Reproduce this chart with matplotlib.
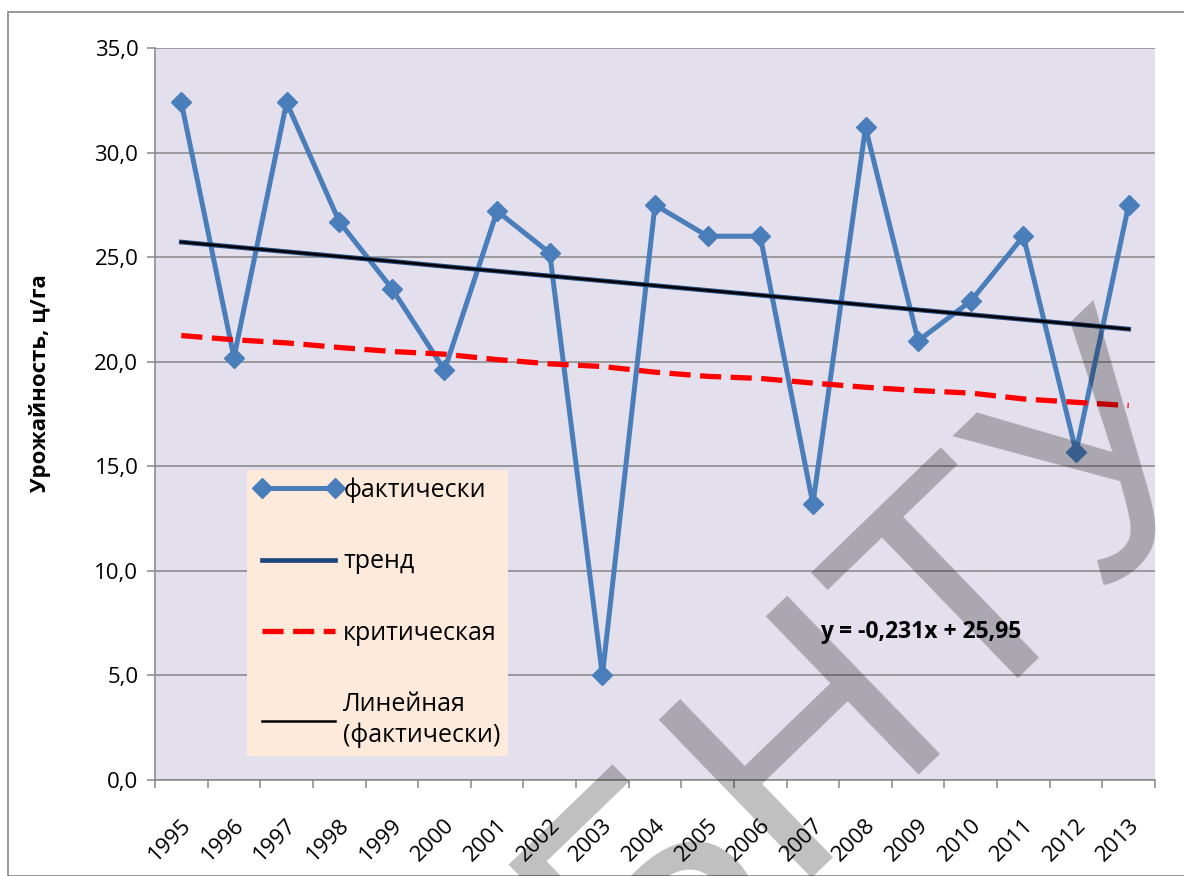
import numpy as np
import matplotlib
matplotlib.use('Agg')
import matplotlib.pyplot as plt
from matplotlib.ticker import MultipleLocator, FixedLocator, FuncFormatter
from matplotlib.patches import Rectangle
import matplotlib.transforms as mtransforms

plt.rcParams['font.family'] = ['Open Sans', 'DejaVu Sans']

# data
years = ['1995', '1996', '1997', '1998', '1999', '2000', '2001', '2002', '2003', '2004',
         '2005', '2006', '2007', '2008', '2009', '2010', '2011', '2012', '2013']
fact = [32.4, 20.2, 32.4, 26.7, 23.5, 19.6, 27.2, 25.2, 5.0, 27.5,
        26.0, 26.0, 13.2, 31.2, 21.0, 22.9, 26.0, 15.7, 27.5]
trend = [25.72, 25.49, 25.26, 25.03, 24.80, 24.56, 24.33, 24.10, 23.87, 23.64,
         23.41, 23.18, 22.95, 22.71, 22.48, 22.25, 22.02, 21.79, 21.56]
critical = [21.25, 21.05, 20.9, 20.68, 20.49, 20.36, 20.1, 19.9, 19.77, 19.5,
            19.3, 19.2, 18.98, 18.78, 18.62, 18.5, 18.22, 18.06, 17.9]
linear_fit = trend  # Excel trendline of "фактически" (same line)
equation = 'y = -0,231x + 25,95'

W, H = 1184, 876
fig = plt.figure(figsize=(W/100, H/100), dpi=100)
# chart area border
fig.patches.append(Rectangle((8/W, 0), 1.5, 1 - 12/H, transform=fig.transFigure,
                             fill=False, edgecolor='#868686', lw=1.2))

ax = fig.add_axes([155/W, 1 - 780/H, 1000/W, 732/H])
ax.set_facecolor('#E4DFEC')
x = np.arange(len(years))

ax.plot(x, fact, color='#4A7EBB', lw=3.6, marker='D', ms=10, zorder=3, label='фактически')
ax.plot(x, trend, color='#1F497D', lw=3.4, zorder=4, label='тренд')
ax.plot(x, critical, color='#FF0000', lw=3.8, dashes=(4.0, 1.8), zorder=5, label='критическая')
ax.plot(x, linear_fit, color='black', lw=1.8, zorder=6, label='Линейная\n(фактически)')

ax.set_xlim(-0.5, len(years) - 0.5)
ax.set_ylim(0, 35)
ax.yaxis.set_major_locator(MultipleLocator(5))
ax.yaxis.set_major_formatter(FuncFormatter(lambda v, p: f'{v:.1f}'.replace('.', ',')))
ax.grid(axis='y', color='#868686', lw=1.1)
ax.set_axisbelow(True)
for s in ['top', 'right']:
    ax.spines[s].set_visible(False)
for s in ['left', 'bottom']:
    ax.spines[s].set_color('#868686')
    ax.spines[s].set_linewidth(1.1)
ax.tick_params(axis='y', length=6, width=1.1, color='#868686', labelsize=16, pad=6)

ax.set_xticks(x)
ax.set_xticklabels(years, rotation=45, ha='right', va='center', rotation_mode='anchor')
ax.xaxis.set_minor_locator(FixedLocator(np.arange(-0.5, len(years), 1)))
ax.tick_params(axis='x', which='major', length=0, labelsize=16, pad=30)
ax.tick_params(axis='x', which='minor', length=6, width=1.1, color='#868686')
offset = mtransforms.ScaledTranslation(5/72, 0, fig.dpi_scale_trans)
for lab in ax.get_xticklabels():
    lab.set_transform(lab.get_transform() + offset)

fig.text(40/W, 1 - 383/H, 'Урожайность, ц/га', rotation=90, ha='center', va='center',
         fontsize=16, fontweight='bold')

fig.text(820/W, 1 - 632/H, equation, ha='left', va='center', fontsize=16.5, fontweight='bold')

leg = ax.legend(loc='upper left', bbox_to_anchor=(247/W, 1 - 470/H), bbox_transform=fig.transFigure,
                fontsize=18, numpoints=2, handlelength=3.5, handletextpad=0.05, labelspacing=1.85,
                borderpad=0.3, borderaxespad=0, frameon=True, fancybox=False)
leg.get_frame().set_facecolor('#FDEADA')
leg.get_frame().set_edgecolor('none')
leg.get_frame().set_alpha(1)
for t in leg.get_texts():
    t.set_linespacing(1.3)

# watermark
fig.text(880/W, 1 - 672/H, 'БНТУ', rotation=44, ha='center', va='center', rotation_mode='anchor',
         fontsize=230, family='Liberation Sans', color='black', alpha=0.25, zorder=20)

fig.savefig('out.png', dpi=100)
